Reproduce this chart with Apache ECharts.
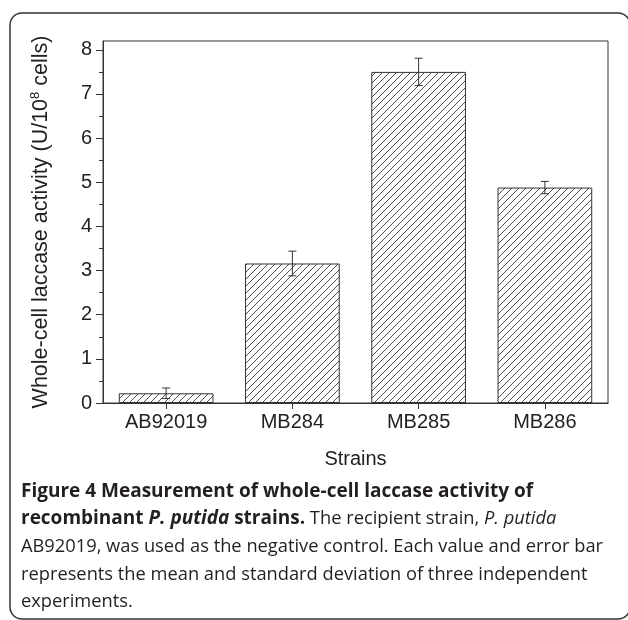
<!DOCTYPE html>
<html>
<head>
<meta charset="utf-8">
<script src="https://cdn.jsdelivr.net/npm/echarts@6/dist/echarts.min.js"></script>
<style>html,body{margin:0;padding:0;background:#fff;}#c{width:628px;height:620px;}</style>
</head>
<body>
<div id="c"></div>
<script>
const categories = ['AB92019', 'MB284', 'MB285', 'MB286'];
const means = [0.22, 3.16, 7.50, 4.88];
const sds = [0.12, 0.28, 0.31, 0.14];
const yMajorTicks = [0, 1, 2, 3, 4, 5, 6, 7, 8];
const yMinorTicks = [0.5, 1.5, 2.5, 3.5, 4.5, 5.5, 6.5, 7.5];

function hatch() {
  const s = 7, c = document.createElement('canvas');
  c.width = s; c.height = s;
  const g = c.getContext('2d');
  g.fillStyle = '#fff'; g.fillRect(0, 0, s, s);
  g.strokeStyle = '#3a3a3a'; g.lineWidth = 0.9;
  g.beginPath();
  g.moveTo(-1, s + 1); g.lineTo(s + 1, -1);
  g.moveTo(-1, 1); g.lineTo(1, -1);
  g.moveTo(s - 1, s + 1); g.lineTo(s + 1, s - 1);
  g.stroke();
  return c;
}

const chart = echarts.init(document.getElementById('c'));
const axisCol = '#333';
const txtCol = '#222';
const FONT = 'Liberation Sans, Arial, sans-serif';
const CFONT = '"Open Sans", sans-serif';

chart.setOption({
  animation: false,
  backgroundColor: '#fff',
  grid: { left: 103, right: 20, top: 41, bottom: 217, show: true, borderColor: axisCol, borderWidth: 1, containLabel: false },
  xAxis: {
    type: 'category', data: categories,
    name: 'Strains', nameLocation: 'middle', nameGap: 46,
    nameTextStyle: { fontSize: 20, color: txtCol, fontFamily: FONT },
    axisLine: { lineStyle: { color: axisCol, width: 1 } },
    axisTick: { show: true, alignWithLabel: true, length: 6, lineStyle: { color: axisCol } },
    axisLabel: { fontSize: 20, color: txtCol, fontFamily: FONT, margin: 9 },
    splitLine: { show: false }
  },
  yAxis: [{
    type: 'value', min: 0, max: 8.2, interval: 1,
    name: '{a|Whole-cell laccase activity (U/10}{s|8}{a| cells)}',
    nameLocation: 'middle', nameGap: 50, nameRotate: 90,
    nameTextStyle: { rich: { a: { fontSize: 21.5, color: txtCol, fontFamily: FONT }, s: { fontSize: 13, color: txtCol, fontFamily: FONT, verticalAlign: 'top', padding: [0, 0, 11, 0] } } },
    axisLine: { show: true, lineStyle: { color: axisCol, width: 1 } },
    axisTick: { show: true, length: 7, lineStyle: { color: axisCol }, customValues: yMajorTicks },
    axisLabel: { fontSize: 20, color: txtCol, fontFamily: FONT, margin: 11, customValues: yMajorTicks },
    splitLine: { show: false }
  }, {
    type: 'value', min: 0, max: 8.2, interval: 1, position: 'left',
    axisLine: { show: false },
    axisTick: { show: true, length: 4, lineStyle: { color: axisCol }, customValues: yMinorTicks },
    axisLabel: { show: false },
    splitLine: { show: false }
  }],
  series: [{
    type: 'bar', data: means, barCategoryGap: '25%',
    itemStyle: { color: { image: hatch(), repeat: 'repeat' }, borderColor: '#333', borderWidth: 1 },
    z: 2
  }, {
    type: 'custom',
    data: means.map((m, i) => [i, m - sds[i], m + sds[i]]),
    renderItem: function (params, api) {
      const lo = api.coord([api.value(0), api.value(1)]);
      const hi = api.coord([api.value(0), api.value(2)]);
      const w = 4;
      const st = { stroke: '#333', lineWidth: 1 };
      return { type: 'group', children: [
        { type: 'line', shape: { x1: lo[0], y1: lo[1], x2: hi[0], y2: hi[1] }, style: st },
        { type: 'line', shape: { x1: lo[0] - w, y1: lo[1], x2: lo[0] + w, y2: lo[1] }, style: st },
        { type: 'line', shape: { x1: hi[0] - w, y1: hi[1], x2: hi[0] + w, y2: hi[1] }, style: st }
      ] };
    },
    z: 3
  }],
  graphic: [{
    type: 'rect', shape: { x: 10, y: 13, width: 620, height: 606, r: 12 },
    style: { fill: 'none', stroke: '#333', lineWidth: 1.5 }, silent: true
  }, {
    type: 'text', x: 21, y: 477.5,
    style: {
      text: '{b|Figure 4 Measurement of whole-cell laccase activity of}\n' +
            '{b|recombinant }{bi|P. putida}{b| strains.}{n| The recipient strain, }{i|P. putida}\n' +
            '{n|AB92019, was used as the negative control. Each value and error bar}\n' +
            '{n|represents the mean and standard deviation of three independent}\n' +
            '{n|experiments.}',
      rich: {
        b: { fontSize: 19, fontWeight: 'bold', fill: '#231f20', fontFamily: CFONT, lineHeight: 27.7 },
        bi: { fontSize: 19, fontWeight: 'bold', fontStyle: 'italic', fill: '#231f20', fontFamily: CFONT, lineHeight: 27.7 },
        n: { fontSize: 18.3, fill: '#231f20', fontFamily: CFONT, lineHeight: 27.7 },
        i: { fontSize: 18.3, fontStyle: 'italic', fill: '#231f20', fontFamily: CFONT, lineHeight: 27.7 }
      }
    }
  }]
});
</script>
</body>
</html>
